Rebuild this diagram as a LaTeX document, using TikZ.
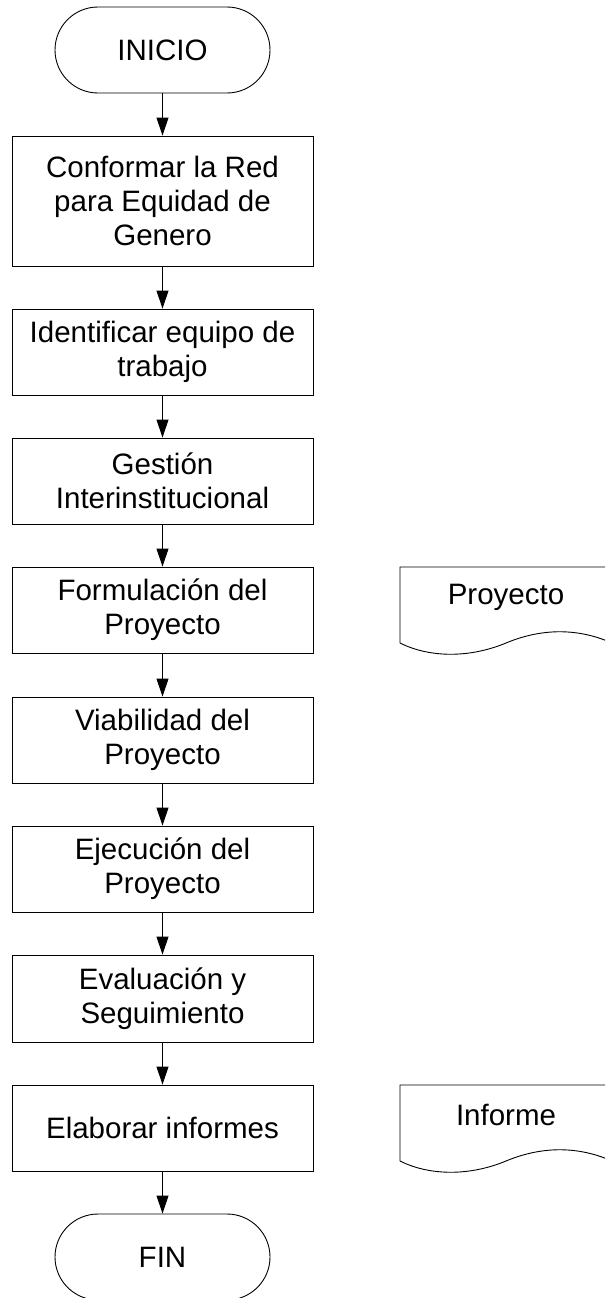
\documentclass[tikz,border=0pt]{standalone}
\usepackage{fontspec}
\setmainfont{Liberation Sans}
\usetikzlibrary{arrows.meta}
\tikzset{
  every node/.style={font=\fontsize{29.5}{34}\selectfont, inner sep=0pt},
  procbox/.style={draw, line width=0.9pt, minimum width=301pt, minimum height=86pt, align=center},
  term/.style={draw, line width=0.9pt, rounded corners=43pt, minimum width=215pt, minimum height=86pt, align=center},
  doctext/.style={align=center},
  docshape/.style={draw, line width=0.9pt},
  arr/.style={line width=0.9pt, -{Triangle[length=18pt,width=12pt]}}
}
\begin{document}
\begin{tikzpicture}[x=1pt,y=-1pt]
\useasboundingbox (0,0) rectangle (605,1298);
\clip (0,0) rectangle (605,1298);
\fill[white] (0,0) rectangle (605,1298);

\node[term] (ini) at (162.5,50) {INICIO};
\node[procbox, minimum height=130pt] (b1) at (162.5,201) {Conformar la Red\\para Equidad de\\Genero};
\node[procbox] (b2) at (162.5,352) {Identificar equipo de\\trabajo};
\node[procbox] (b3) at (162.5,481) {Gestión\\Interinstitucional};
\node[procbox] (b4) at (162.5,610) {Formulación del\\Proyecto};
\node[procbox] (b5) at (162.5,740) {Viabilidad del\\Proyecto};
\node[procbox] (b6) at (162.5,869) {Ejecución del\\Proyecto};
\node[procbox, minimum height=87pt] (b7) at (162.5,998.5) {Evaluación y\\Seguimiento};
\node[procbox] (b8) at (162.5,1128) {Elaborar informes};
\node[term] (fin) at (162.5,1257) {FIN};

\draw[arr] (ini) -- (b1);
\draw[arr] (b1) -- (b2);
\draw[arr] (b2) -- (b3);
\draw[arr] (b3) -- (b4);
\draw[arr] (b4) -- (b5);
\draw[arr] (b5) -- (b6);
\draw[arr] (b6) -- (b7);
\draw[arr] (b7) -- (b8);
\draw[arr] (b8) -- (fin);

% documents
\draw[docshape] (400,643) -- (400,567) -- (612,567) -- (612,643)
  .. controls (578,628) and (542,628) .. (506,643)
  .. controls (470,658) and (430,658) .. (400,643);
\node[doctext] (proy) at (506,597) {Proyecto};

\draw[docshape] (400,1161) -- (400,1085) -- (612,1085) -- (612,1161)
  .. controls (578,1146) and (542,1146) .. (506,1161)
  .. controls (470,1176) and (430,1176) .. (400,1161);
\node[doctext] (inf) at (506,1115) {Informe};
\end{tikzpicture}
\end{document}
